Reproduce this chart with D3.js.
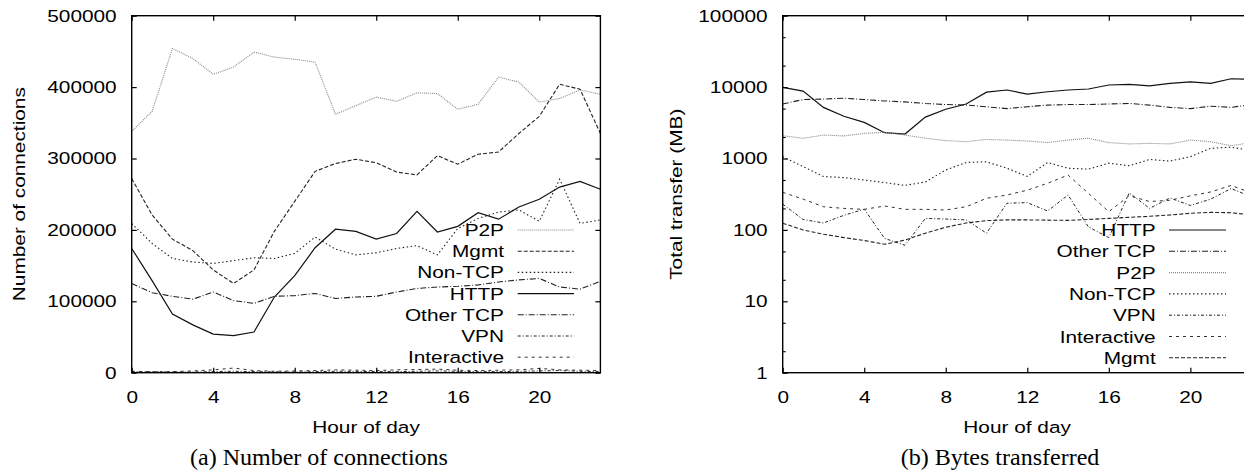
<!DOCTYPE html>
<html>
<head>
<meta charset="utf-8">
<script src="https://cdn.jsdelivr.net/npm/d3@7"></script>
<style>
  html, body { margin: 0; padding: 0; background: #fff; }
  svg { display: block; }
  text { font-family: "Liberation Sans", Arial, Helvetica, sans-serif; font-size: 16.8px; fill: #000; }
  .cap { font-family: "Liberation Serif", "Times New Roman", serif; font-size: 24px; }
</style>
</head>
<body>
<svg id="chart" width="1244" height="472"></svg>
<script>
// ---------------- data ----------------
const hours = [0,1,2,3,4,5,6,7,8,9,10,11,12,13,14,15,16,17,18,19,20,21,22,23];
const xTickValues = [0,4,8,12,16,20];
const connTickValues = [0,100000,200000,300000,400000,500000];
const bytesTickValues = [1,10,100,1000,10000,100000];
const bytesMinorTicks = [2,5,20,50,200,500,2000,5000,20000,50000];

// (a) Number of connections
const connP2P = [338000,366000,454000,440000,418000,428000,449000,442000,439000,435000,362000,374000,386000,380000,392000,391000,369000,376000,414000,407000,379000,384000,396000,390000];
const connMgmt = [272000,221000,187000,171000,144000,125000,144000,198000,240000,282000,293000,299000,294000,281000,277000,304000,292000,306000,309000,335000,359000,404000,397000,335000];
const connNonTCP = [209000,181000,160000,155000,153000,157000,161000,160000,167000,190000,173000,165000,168000,174000,178000,165000,202000,216000,225000,228000,212000,271000,209000,214000];
const connHTTP = [174000,129000,82000,67000,54000,52000,57000,106000,136000,175000,201000,198000,187000,195000,226000,197000,205000,224000,215000,232000,243000,260000,268000,257000];
const connOtherTCP = [125000,112000,107000,103000,113000,101000,97000,107000,108000,111000,104000,106000,107000,113000,118000,120000,121000,123000,127000,130000,132000,120000,117000,128000];
const connVPN = [1500,1200,1000,1000,1500,2000,1500,1200,1000,1500,2000,1800,1500,1500,2000,2500,2000,1500,1500,2000,2500,3000,2000,1500];
const connInteractive = [2000,1500,1500,2500,4000,6500,3000,2000,2500,3000,4000,3500,3000,4000,4500,5000,3500,3000,3500,4000,6000,4000,3500,3000];

// (b) Bytes transferred (MB)
const bytesHTTP = [9900,8800,5200,3900,3200,2300,2200,3800,4900,5800,8500,9100,8000,8600,9100,9400,10700,10900,10400,11300,11800,11300,13100,12900];
const bytesOtherTCP = [5800,6700,6800,7000,6700,6400,6200,5900,5700,5600,5300,5000,5300,5600,5700,5700,5800,5900,5600,5200,5000,5400,5200,5700];
const bytesP2P = [2080,1920,2130,2070,2250,2330,2130,1920,1780,1720,1850,1810,1760,1670,1810,1920,1670,1600,1630,1600,1810,1720,1510,1670];
const bytesNonTCP = [1060,770,560,540,500,460,420,470,690,880,900,730,560,880,730,710,860,790,970,920,1060,1390,1440,1290];
const bytesVPN = [230,140,125,160,195,76,61,145,142,138,90,236,241,184,308,110,78,330,200,280,220,270,380,290];
const bytesInteractive = [336,270,211,200,194,216,194,194,190,211,277,308,360,450,587,325,180,300,250,260,300,340,420,330];
const bytesMgmt = [124,100,87,78,71,63,72,90,109,125,135,138,138,137,136,140,145,150,155,162,171,176,174,162];

// ---------------- styles ----------------
const styles = {
  "HTTP":        { stroke: "#111", dash: null,      width: 1.2 },
  "Other TCP":   { stroke: "#222", dash: "6,2,1,2", width: 1.1 },
  "P2P":         { stroke: "#888", dash: "1,1",     width: 1.1 },
  "Non-TCP":     { stroke: "#222", dash: "1.5,2.5", width: 1.1 },
  "VPN":         { stroke: "#222", dash: "3,2,1,2", width: 1.0 },
  "Interactive": { stroke: "#333", dash: "3,4",     width: 1.0 },
  "Mgmt":        { stroke: "#222", dash: "4,2",     width: 1.1 }
};

const SX = 1.24; // horizontal stretch of the sans text
const svg = d3.select("#chart");

function stretchText(sel) {
  sel.selectAll("text").each(function() {
    const t = d3.select(this);
    const x = +t.attr("x") || 0;
    t.attr("x", x / SX).attr("transform", `scale(${SX},1)`);
  });
}

function label(g, x, y, s, anchor, rot, cls) {
  const t = g.append("text")
    .attr("transform", `translate(${x},${y})` + (rot ? ` rotate(${rot})` : "") + (cls ? "" : ` scale(${SX},1)`))
    .attr("text-anchor", anchor)
    .text(s);
  if (cls) t.attr("class", cls);
  return t;
}

function drawPanel(opts) {
  const { left, right, top, bottom, y, yTicks, yFormat, minor, series, legendOrder,
          legendTextX, legendLineX0, legendLineX1, legendY0, legendStep,
          yTitle, yTitleX, caption, captionX } = opts;
  const g = svg.append("g");
  const x = d3.scaleLinear().domain([0, 23]).range([left, right]);

  const line = d3.line().x(d => x(d.h)).y(d => y(d.v));
  series.forEach(s => {
    const st = styles[s.name];
    g.append("path")
      .datum(hours.map((h, i) => ({ h, v: s.values[i] })))
      .attr("fill", "none")
      .attr("stroke", st.stroke)
      .attr("stroke-width", st.width)
      .attr("stroke-dasharray", st.dash)
      .attr("d", line);
  });

  const ax = g.append("g").attr("transform", `translate(0,${bottom})`)
    .call(d3.axisBottom(x).tickValues(xTickValues).tickSizeInner(-5).tickSizeOuter(0).tickPadding(18));
  ax.select(".domain").remove();
  ax.selectAll("line").attr("stroke", "#000").attr("stroke-width", 1.2);
  ax.attr("font-size", null).attr("font-family", null);
  ax.selectAll("text").attr("fill", "#000");
  stretchText(ax);

  const axT = g.append("g").attr("transform", `translate(0,${top})`)
    .call(d3.axisTop(x).tickValues(xTickValues).tickSizeInner(-5).tickSizeOuter(0).tickFormat(""));
  axT.select(".domain").remove();
  axT.selectAll("line").attr("stroke", "#000").attr("stroke-width", 1.2);

  const ay = g.append("g").attr("transform", `translate(${left},0)`)
    .call(d3.axisLeft(y).tickValues(yTicks).tickFormat(yFormat).tickSizeInner(-5).tickSizeOuter(0).tickPadding(15));
  ay.select(".domain").remove();
  ay.selectAll("line").attr("stroke", "#000").attr("stroke-width", 1.2);
  ay.attr("font-size", null).attr("font-family", null);
  ay.selectAll("text").attr("fill", "#000");
  stretchText(ay);

  const ayR = g.append("g").attr("transform", `translate(${right},0)`)
    .call(d3.axisRight(y).tickValues(yTicks).tickSizeInner(-5).tickSizeOuter(0).tickFormat(""));
  ayR.select(".domain").remove();
  ayR.selectAll("line").attr("stroke", "#000").attr("stroke-width", 1.2);

  if (minor) {
    const m1 = g.append("g").attr("transform", `translate(${left},0)`)
      .call(d3.axisLeft(y).tickValues(minor).tickSizeInner(-3).tickSizeOuter(0).tickFormat(""));
    m1.select(".domain").remove();
    m1.selectAll("line").attr("stroke", "#000").attr("stroke-width", 1.1);
    const m2 = g.append("g").attr("transform", `translate(${right},0)`)
      .call(d3.axisRight(y).tickValues(minor).tickSizeInner(-3).tickSizeOuter(0).tickFormat(""));
    m2.select(".domain").remove();
    m2.selectAll("line").attr("stroke", "#000").attr("stroke-width", 1.1);
  }

  g.append("rect")
    .attr("x", left).attr("y", top)
    .attr("width", right - left).attr("height", bottom - top)
    .attr("fill", "none").attr("stroke", "#000").attr("stroke-width", 1.4);

  legendOrder.forEach((name, i) => {
    const st = styles[name];
    const ly = legendY0 + i * legendStep;
    label(g, legendTextX, ly, name, "end").attr("dy", "0.36em");
    g.append("line")
      .attr("x1", legendLineX0).attr("x2", legendLineX1)
      .attr("y1", ly).attr("y2", ly)
      .attr("stroke", st.stroke).attr("stroke-width", st.width)
      .attr("stroke-dasharray", st.dash);
  });

  label(g, (left + right) / 2, 433.3, "Hour of day", "middle");
  label(g, yTitleX, (top + bottom) / 2, yTitle, "middle", -90);
  label(g, captionX, 465, caption, "middle", null, "cap");
}

const TOP = 15.7, BOTTOM = 372.7;

drawPanel({
  left: 131.7, right: 600.4, top: TOP, bottom: BOTTOM,
  y: d3.scaleLinear().domain([0, 500000]).range([BOTTOM, TOP]),
  yTicks: connTickValues, yFormat: d3.format("d"), minor: null,
  series: [
    { name: "P2P", values: connP2P },
    { name: "Mgmt", values: connMgmt },
    { name: "Non-TCP", values: connNonTCP },
    { name: "HTTP", values: connHTTP },
    { name: "Other TCP", values: connOtherTCP },
    { name: "VPN", values: connVPN },
    { name: "Interactive", values: connInteractive }
  ],
  legendOrder: ["P2P", "Mgmt", "Non-TCP", "HTTP", "Other TCP", "VPN", "Interactive"],
  legendTextX: 504, legendLineX0: 517.7, legendLineX1: 574, legendY0: 230, legendStep: 21.2,
  yTitle: "Number of connections", yTitleX: 25,
  caption: "(a) Number of connections", captionX: 319
});

drawPanel({
  left: 782.7, right: 1251.5, top: TOP, bottom: BOTTOM,
  y: d3.scaleLog().domain([1, 100000]).range([BOTTOM, TOP]),
  yTicks: bytesTickValues, yFormat: d3.format("d"), minor: bytesMinorTicks,
  series: [
    { name: "HTTP", values: bytesHTTP },
    { name: "Other TCP", values: bytesOtherTCP },
    { name: "P2P", values: bytesP2P },
    { name: "Non-TCP", values: bytesNonTCP },
    { name: "VPN", values: bytesVPN },
    { name: "Interactive", values: bytesInteractive },
    { name: "Mgmt", values: bytesMgmt }
  ],
  legendOrder: ["HTTP", "Other TCP", "P2P", "Non-TCP", "VPN", "Interactive", "Mgmt"],
  legendTextX: 1155.7, legendLineX0: 1169, legendLineX1: 1226, legendY0: 230, legendStep: 21.3,
  yTitle: "Total transfer (MB)", yTitleX: 682,
  caption: "(b) Bytes transferred", captionX: 1000
});
</script>
</body>
</html>
